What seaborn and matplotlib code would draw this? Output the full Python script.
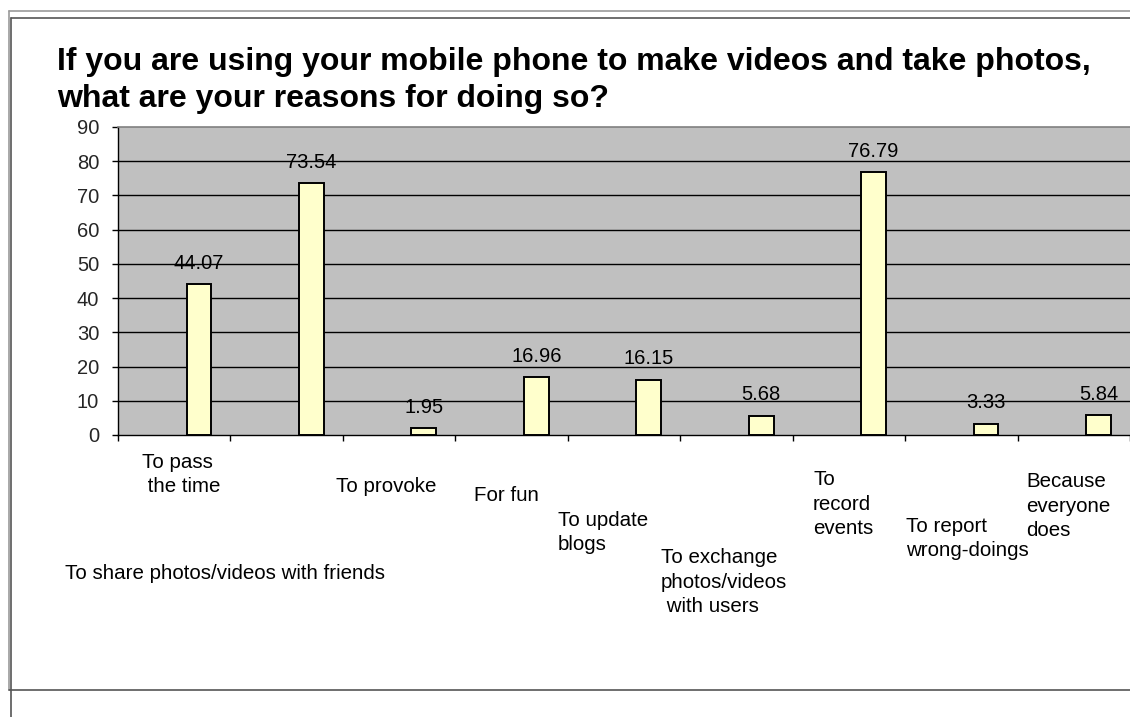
import numpy as np
import pandas as pd
import matplotlib
matplotlib.use("Agg")
import matplotlib.pyplot as plt
from matplotlib.lines import Line2D
import seaborn as sns

# ---- data -------------------------------------------------------------
categories = [
    "To pass\n the time",
    "To share photos/videos with friends",
    "To provoke",
    "For fun",
    "To update\nblogs",
    "To exchange\nphotos/videos\n with users",
    "To\nrecord\nevents",
    "To report\nwrong-doings",
    "Because\neveryone\ndoes",
]
values = [44.07, 73.54, 1.95, 16.96, 16.15, 5.68, 76.79, 3.33, 5.84]
y_ticks = [0, 10, 20, 30, 40, 50, 60, 70, 80, 90]
title_lines = [
    "If you are using your mobile phone to make videos and take photos,",
    "what are your reasons for doing so?",
]

# ---- layout (pixels on a 1130 x 717 canvas) ---------------------------
W, H = 1130, 717
bar_offset = 0.22      # bars sit right of the category centre
bar_width = 0.22
line_step = 24.5       # baseline-to-baseline distance of category labels
# left edge / first-line baseline of each staggered category label
label_xy = [(142, 468), (65, 579), (336, 492), (474, 501), (558, 526),
            (661, 563), (813, 485), (906, 532), (1026, 487)]

sns.set_theme(style="white")
plt.rcParams["font.family"] = ["Liberation Sans", "DejaVu Sans"]

fig = plt.figure(figsize=(W / 100, H / 100), dpi=100)
ax = fig.add_axes([118 / W, 1 - 435 / H, 1 - 118 / W, (435 - 127) / H])

df = pd.DataFrame({"pos": np.arange(len(values)) + bar_offset,
                   "value": values})
sns.barplot(data=df, x="pos", y="value", native_scale=True, width=bar_width,
            color="#FFFFCC", edgecolor="black", linewidth=1.4,
            saturation=1, ax=ax, zorder=3)

ax.set_facecolor("#C0C0C0")
ax.set_xlim(-0.5, (W - 118) / 112.6 - 0.5)
ax.set_ylim(0, 90)
ax.set_yticks(y_ticks)
ax.set_yticklabels([str(t) for t in y_ticks], fontsize=14.5)
ax.tick_params(axis="y", direction="out", length=4.5, width=1,
               color="black", pad=9, left=True)
ax.set_xticks([])
ax.set_xticks(np.arange(len(values) + 1) - 0.5, minor=True)
ax.tick_params(axis="x", which="minor", direction="out", length=4.5,
               width=1, color="black", bottom=True)
ax.set_xlabel("")
ax.set_ylabel("")
for t in y_ticks[1:-1]:
    ax.axhline(t, color="black", lw=1, zorder=1)

ax.spines["right"].set_visible(False)
ax.spines["top"].set_color("#808080")
ax.spines["top"].set_linewidth(1.2)
for side in ["left", "bottom"]:
    ax.spines[side].set_color("black")
    ax.spines[side].set_linewidth(1)

# value labels above bars
for p, v in zip(df["pos"], df["value"]):
    ax.annotate(f"{v:.2f}", (p, v), xytext=(0, 11), textcoords="offset points",
                ha="center", va="baseline", fontsize=14.5, color="black",
                zorder=4)

# staggered category labels, one text per line
for text, (lx, ly) in zip(categories, label_xy):
    for i, line in enumerate(text.split("\n")):
        fig.text(lx / W, 1 - (ly + i * line_step) / H, line, ha="left",
                 va="baseline", fontsize=14.8, color="black")

# title
fig.text(57 / W, 1 - 70 / H, title_lines[0], ha="left", va="baseline",
         fontsize=23, fontweight="bold", color="black")
fig.text(57 / W, 1 - 107 / H, title_lines[1], ha="left", va="baseline",
         fontsize=23, fontweight="bold", color="black")

# chart frame
def fline(x0, y0, x1, y1, c, lw):
    fig.add_artist(Line2D([x0 / W, x1 / W], [1 - y0 / H, 1 - y1 / H],
                          transform=fig.transFigure, color=c, lw=lw))

fline(8.5, 10.5, W, 10.5, "#9a9a9a", 1.2)
fline(8.5, 10.5, 8.5, 690, "#9a9a9a", 1.2)
fline(11, 18, W, 18, "#555555", 1.2)
fline(11, 18, 11, H, "#555555", 1.2)
fline(8.5, 690, W, 690, "#555555", 1.2)

fig.savefig("out.png", dpi=100)
